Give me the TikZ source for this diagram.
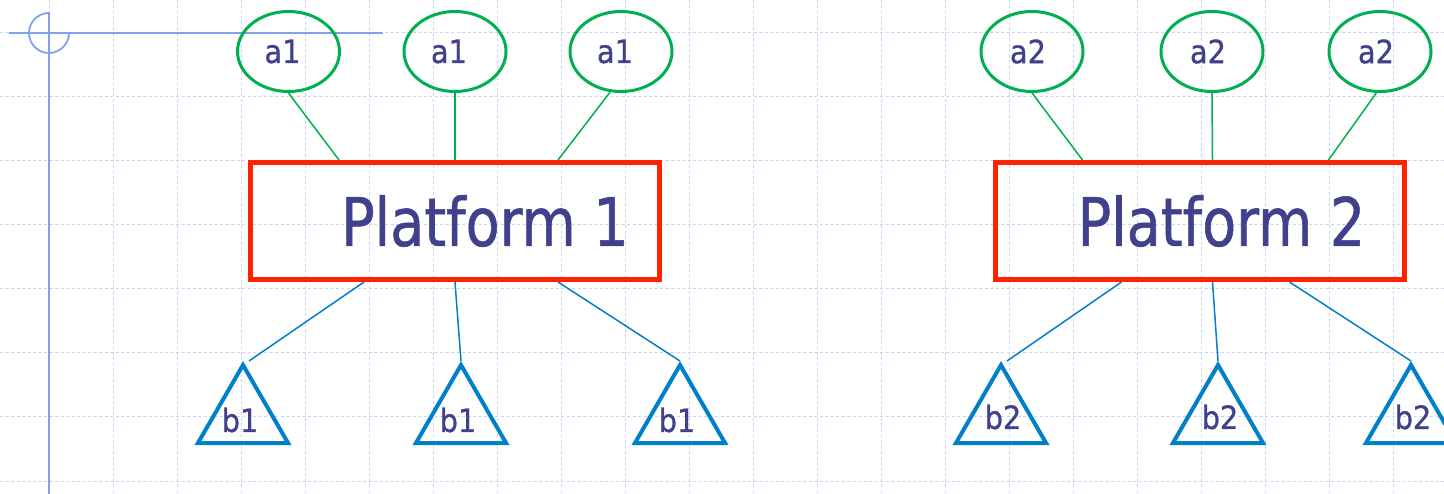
\documentclass[tikz,border=0pt]{standalone}
\usepackage{fontspec}
\setmainfont{DejaVu Sans}[FakeStretch=0.9, FakeBold=0.8]
\newfontfamily\platformfont{DejaVu Sans}[FakeStretch=0.83, FakeBold=0.8]
\usetikzlibrary{shapes.geometric}
\definecolor{gridblue}{RGB}{200,210,250}
\definecolor{crossblue}{RGB}{128,160,240}
\definecolor{agreen}{RGB}{0,176,80}
\definecolor{boxred}{RGB}{255,34,0}
\definecolor{tblue}{RGB}{0,128,200}
\definecolor{ink}{RGB}{64,64,140}
\begin{document}
\begin{tikzpicture}[x=1pt,y=-1pt,
  gridline/.style={draw=gridblue, line width=1pt, dash pattern=on 3pt off 2.5pt},
  cross/.style={draw=crossblue, line width=1.8pt},
  atom/.style={ellipse, draw=agreen, line width=3pt, minimum width=102pt,
    minimum height=80pt, inner sep=0pt, text=ink, font=\fontsize{32}{38}\selectfont},
  platform/.style={rectangle, draw=boxred, line width=5pt, minimum width=409pt,
    minimum height=117pt, inner sep=0pt},
  ptext/.style={font=\platformfont\fontsize{67}{80}\selectfont, text=ink, inner sep=0pt},
  tri/.style={regular polygon, regular polygon sides=3, draw=tblue, line width=4pt,
    minimum size=104pt, inner sep=0pt},
  tritext/.style={text=ink, inner sep=0pt, font=\fontsize{32}{38}\selectfont},
  aline/.style={draw=agreen, line width=1.5pt},
  bline/.style={draw=tblue, line width=1.5pt}
]
\useasboundingbox (0,0) rectangle (1444,494);
\fill[white] (0,0) rectangle (1444,494);

% background grid
\foreach \k in {0,...,21}
  \draw[gridline] ({49+64*\k},0) -- ({49+64*\k},494);
\foreach \k in {0,...,7}
  \draw[gridline] (0,{33+64*\k}) -- (1444,{33+64*\k});

% origin crosshair
\draw[cross] (9,33) -- (383,33);
\draw[cross] (49,12) -- (49,494);
\draw[cross] (69,33) arc[start angle=0, end angle=270, radius=20];

% platform 1
\node[platform, label={[ptext, xshift=30pt]center:Platform 1}] (p1) at (455,221) {};
\node[atom] (a11) at (288.5,51.5) {a1\kern12pt};
\node[atom] (a12) at (455,51.5) {a1\kern12pt};
\node[atom] (a13) at (621,51.5) {a1\kern12pt};
\node[tri, label={[tritext, xshift=-3pt, yshift=-3pt]center:b1}] (b11) at (243,417) {};
\node[tri, label={[tritext, xshift=-3pt, yshift=-3pt]center:b1}] (b12) at (461,417) {};
\node[tri, label={[tritext, xshift=-3pt, yshift=-3pt]center:b1}] (b13) at (680,417) {};

\draw[aline] (a11.south) -- ([xshift=91pt]p1.north west);
\draw[aline] (a12.south) -- (p1.north);
\draw[aline] (a13.255) -- ([xshift=310pt]p1.north west);
\draw[bline] ([xshift=116pt]p1.south west) -- ([xshift=6pt]b11.corner 1);
\draw[bline] (p1.south) -- (b12.corner 1);
\draw[bline] ([xshift=310pt]p1.south west) -- (b13.corner 1);

% platform 2
\node[platform, label={[ptext, xshift=22pt]center:Platform 2}] (p2) at (1199.5,221) {};
\node[atom] (a21) at (1032,51.5) {a2\kern8pt};
\node[atom] (a22) at (1212,51.5) {a2\kern8pt};
\node[atom] (a23) at (1380,51.5) {a2\kern8pt};
\node[tri, label={[tritext, xshift=2pt]center:b2}] (b21) at (1001,417) {};
\node[tri, label={[tritext, xshift=2pt]center:b2}] (b22) at (1218,417) {};
\node[tri, label={[tritext, xshift=2pt]center:b2}] (b23) at (1411,417) {};

\draw[aline] (a21.south) -- ([xshift=90pt]p2.north west);
\draw[aline] (a22.south) -- ([xshift=220pt]p2.north west);
\draw[aline] (a23.265) -- ([xshift=336pt]p2.north west);
\draw[bline] ([xshift=129pt]p2.south west) -- ([xshift=6pt]b21.corner 1);
\draw[bline] ([xshift=220pt]p2.south west) -- (b22.corner 1);
\draw[bline] ([xshift=297pt]p2.south west) -- (b23.corner 1);
\end{tikzpicture}
\end{document}
